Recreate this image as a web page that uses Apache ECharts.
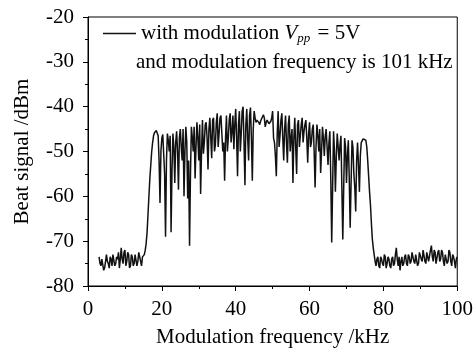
<!DOCTYPE html>
<html>
<head>
<meta charset="utf-8">
<script src="https://cdn.jsdelivr.net/npm/echarts@6/dist/echarts.min.js"></script>
<style>
html,body{margin:0;padding:0;background:#fff;}
#chart{width:476px;height:353px;}
</style>
</head>
<body>
<div id="chart"></div>
<script>
// Modulation frequency (kHz)
var freq = [
 3.0,3.25,3.5,3.75,4.0,4.25,4.5,4.75,
 5.0,5.25,5.5,5.75,6.0,6.25,6.5,6.75,
 7.0,7.25,7.5,7.75,8.0,8.25,8.5,8.75,
 9.0,9.25,9.5,9.75,10.0,10.25,10.5,10.75,
 11.0,11.25,11.5,11.75,12.0,12.25,12.5,12.75,
 13.0,13.25,13.5,13.75,14.0,14.25,14.5,14.75,
 15.0,15.25,15.5,15.75,16.0,16.25,16.5,16.75,
 17.0,17.25,17.5,17.75,18.0,18.25,18.5,18.75,
 19.0,19.25,19.5,19.75,20.0,20.25,20.5,20.75,
 21.0,21.25,21.5,21.75,22.0,22.25,22.5,22.75,
 23.0,23.25,23.5,23.75,24.0,24.25,24.5,24.75,
 25.0,25.25,25.5,25.75,26.0,26.25,26.5,26.75,
 27.0,27.25,27.5,27.75,28.0,28.25,28.5,28.75,
 29.0,29.25,29.5,29.75,30.0,30.25,30.5,30.75,
 31.0,31.25,31.5,31.75,32.0,32.25,32.5,32.75,
 33.0,33.25,33.5,33.75,34.0,34.25,34.5,34.75,
 35.0,35.25,35.5,35.75,36.0,36.25,36.5,36.75,
 37.0,37.25,37.5,37.75,38.0,38.25,38.5,38.75,
 39.0,39.25,39.5,39.75,40.0,40.25,40.5,40.75,
 41.0,41.25,41.5,41.75,42.0,42.25,42.5,42.75,
 43.0,43.25,43.5,43.75,44.0,44.25,44.5,44.75,
 45.0,45.25,45.5,45.75,46.0,46.25,46.5,46.75,
 47.0,47.25,47.5,47.75,48.0,48.25,48.5,48.75,
 49.0,49.25,49.5,49.75,50.0,50.25,50.5,50.75,
 51.0,51.25,51.5,51.75,52.0,52.25,52.5,52.75,
 53.0,53.25,53.5,53.75,54.0,54.25,54.5,54.75,
 55.0,55.25,55.5,55.75,56.0,56.25,56.5,56.75,
 57.0,57.25,57.5,57.75,58.0,58.25,58.5,58.75,
 59.0,59.25,59.5,59.75,60.0,60.25,60.5,60.75,
 61.0,61.25,61.5,61.75,62.0,62.25,62.5,62.75,
 63.0,63.25,63.5,63.75,64.0,64.25,64.5,64.75,
 65.0,65.25,65.5,65.75,66.0,66.25,66.5,66.75,
 67.0,67.25,67.5,67.75,68.0,68.25,68.5,68.75,
 69.0,69.25,69.5,69.75,70.0,70.25,70.5,70.75,
 71.0,71.25,71.5,71.75,72.0,72.25,72.5,72.75,
 73.0,73.25,73.5,73.75,74.0,74.25,74.5,74.75,
 75.0,75.25,75.5,75.75,76.0,76.25,76.5,76.75,
 77.0,77.25,77.5,77.75,78.0,78.25,78.5,78.75,
 79.0,79.25,79.5,79.75,80.0,80.25,80.5,80.75,
 81.0,81.25,81.5,81.75,82.0,82.25,82.5,82.75,
 83.0,83.25,83.5,83.75,84.0,84.25,84.5,84.75,
 85.0,85.25,85.5,85.75,86.0,86.25,86.5,86.75,
 87.0,87.25,87.5,87.75,88.0,88.25,88.5,88.75,
 89.0,89.25,89.5,89.75,90.0,90.25,90.5,90.75,
 91.0,91.25,91.5,91.75,92.0,92.25,92.5,92.75,
 93.0,93.25,93.5,93.75,94.0,94.25,94.5,94.75,
 95.0,95.25,95.5,95.75,96.0,96.25,96.5,96.75,
 97.0,97.25,97.5,97.75,98.0,98.25,98.5,98.75,
 99.0,99.25,99.5,99.75,100.0
];
// Beat signal (dBm)
var beat = [
 -73.5,-75.0,-75.5,-74.0,-74.0,-76.5,-76.0,-74.5,
 -73.0,-74.5,-75.0,-76.0,-73.5,-74.0,-75.5,-73.0,
 -73.0,-75.5,-75.0,-73.5,-74.0,-72.5,-76.0,-74.0,
 -71.5,-74.0,-75.0,-72.5,-72.0,-75.5,-74.5,-72.5,
 -73.0,-76.0,-75.5,-73.0,-73.5,-75.5,-75.0,-73.0,
 -73.0,-75.5,-74.5,-72.5,-72.5,-74.5,-75.5,-73.5,
 -73.5,-73.0,-72.0,-70.5,-68.0,-64.0,-60.0,-56.0,
 -53.0,-50.0,-48.0,-46.5,-45.8,-45.4,-45.3,-45.7,
 -46.5,-52.0,-61.5,-50.0,-47.0,-46.2,-46.5,-55.0,
 -69.0,-52.0,-46.0,-47.5,-50.0,-46.5,-68.0,-54.0,
 -46.0,-49.0,-57.0,-48.0,-45.5,-50.0,-58.5,-47.0,
 -45.0,-49.0,-52.0,-45.0,-60.0,-50.0,-44.5,-48.0,
 -60.5,-52.0,-71.0,-55.0,-44.5,-47.0,-50.0,-44.5,
 -56.0,-49.0,-43.5,-47.0,-52.0,-44.0,-59.5,-50.0,
 -43.0,-50.5,-48.0,-44.0,-43.5,-47.0,-54.0,-45.0,
 -42.5,-47.0,-51.5,-43.0,-42.5,-50.0,-48.5,-43.5,
 -41.5,-49.0,-46.0,-42.5,-42.0,-46.0,-50.0,-48.0,
 -56.5,-47.0,-42.0,-50.0,-47.0,-43.0,-41.5,-48.0,
 -45.5,-42.0,-49.5,-44.0,-40.5,-47.0,-55.5,-44.0,
 -41.0,-50.0,-46.0,-41.0,-40.0,-48.0,-57.5,-44.0,
 -40.5,-47.0,-52.0,-42.0,-40.2,-47.0,-56.5,-45.0,
 -41.0,-42.5,-43.5,-43.0,-43.0,-43.5,-44.0,-43.2,
 -43.5,-43.0,-41.8,-42.5,-44.5,-43.5,-43.0,-43.3,
 -43.8,-43.5,-43.3,-42.5,-41.0,-47.0,-48.0,-51.0,
 -55.5,-46.0,-41.0,-49.0,-46.5,-43.0,-41.5,-47.0,
 -52.0,-45.0,-42.0,-48.0,-52.5,-44.0,-42.0,-50.0,
 -47.0,-45.0,-57.0,-47.0,-42.5,-49.0,-55.0,-44.0,
 -43.0,-49.0,-46.5,-44.0,-42.5,-48.0,-45.5,-44.0,
 -43.0,-47.0,-52.5,-46.0,-43.5,-49.0,-48.0,-45.0,
 -44.0,-50.0,-58.0,-49.0,-44.0,-46.5,-50.0,-45.0,
 -54.8,-50.0,-44.5,-47.0,-51.0,-46.5,-45.0,-49.0,
 -53.0,-48.0,-45.5,-56.0,-70.3,-58.0,-45.5,-50.0,
 -59.0,-51.0,-46.0,-49.0,-52.0,-48.5,-46.5,-58.0,
 -69.6,-58.0,-47.0,-49.0,-57.0,-51.0,-47.5,-56.0,
 -67.0,-57.0,-47.5,-49.0,-55.0,-58.0,-63.4,-52.0,
 -48.0,-53.0,-59.0,-51.0,-48.0,-47.6,-47.2,-47.0,
 -47.0,-47.5,-49.0,-52.0,-55.5,-59.0,-62.0,-66.0,
 -69.5,-71.5,-73.0,-74.5,-75.5,-74.0,-73.5,-75.5,
 -76.0,-73.5,-74.0,-75.0,-75.5,-73.0,-73.5,-76.0,
 -75.0,-73.5,-74.0,-75.5,-76.0,-74.0,-73.5,-75.5,
 -75.0,-73.0,-71.5,-74.0,-75.5,-73.5,-76.5,-74.5,
 -73.5,-75.5,-75.0,-73.5,-73.0,-75.0,-75.5,-73.0,
 -73.5,-75.0,-74.5,-72.5,-72.5,-74.5,-75.0,-73.0,
 -73.0,-75.5,-75.0,-72.5,-72.5,-74.0,-74.5,-72.0,
 -72.0,-74.5,-75.0,-72.5,-72.5,-74.5,-74.5,-72.0,
 -71.0,-73.5,-74.5,-72.0,-72.5,-75.0,-75.0,-72.5,
 -72.0,-74.5,-74.0,-72.0,-72.5,-74.5,-75.5,-73.0,
 -73.0,-75.0,-74.5,-72.0,-72.5,-74.5,-75.5,-73.0,
 -73.5,-74.5,-76.0,-74.0,-73.5
];
var xTicks = [0, 20, 40, 60, 80, 100];
var yTicks = [-80, -70, -60, -50, -40, -30, -20];
var seriesName = 'with modulation';
var legendLine1 = 'with modulation {v|V}{s|pp} = 5V';
var legendLine2 = 'and modulation frequency is 101 kHz';

var pts = freq.map(function (f, i) { return [f, beat[i]]; });
var FONT = '"Liberation Serif","Times New Roman",serif';
var FS = 21;
var chart = echarts.init(document.getElementById('chart'), null, {renderer: 'canvas'});
chart.setOption({
  animation: false,
  backgroundColor: '#fff',
  grid: {left: 88, right: 15, top: 17, bottom: 60, show: true, borderColor: '#000', borderWidth: 1, backgroundColor: 'transparent'},
  legend: {
    left: 98, top: 18, itemWidth: 33, itemHeight: 14, itemGap: 5,
    data: [{name: seriesName, icon: 'path://M0,0L33,0L33,1.5L0,1.5Z'}],
    formatter: function () { return legendLine1; },
    textStyle: {
      fontFamily: FONT, fontSize: FS, color: '#000',
      rich: {
        v: {fontFamily: FONT, fontSize: FS, fontStyle: 'italic', color: '#000'},
        s: {fontFamily: FONT, fontSize: 13, fontStyle: 'italic', color: '#000', verticalAlign: 'bottom', padding: [10, 2, 0, 0]}
      }
    }
  },
  graphic: [{type: 'text', left: 136, top: 52, style: {text: legendLine2, font: FS + 'px ' + FONT, fill: '#000'}}],
  xAxis: {
    type: 'value', min: xTicks[0], max: xTicks[xTicks.length - 1], interval: 20,
    name: 'Modulation frequency /kHz', nameLocation: 'middle', nameGap: 41,
    nameTextStyle: {fontFamily: FONT, fontSize: FS, color: '#000'},
    axisLine: {show: true, onZero: false, lineStyle: {color: '#000', width: 1}},
    axisTick: {show: true, length: 5, lineStyle: {color: '#000'}},
    minorTick: {show: true, splitNumber: 2, length: 3, lineStyle: {color: '#000'}},
    splitLine: {show: false},
    axisLabel: {fontFamily: FONT, fontSize: FS, color: '#000', margin: 13}
  },
  yAxis: {
    type: 'value', min: yTicks[0], max: yTicks[yTicks.length - 1], interval: 10,
    name: 'Beat signal /dBm', nameLocation: 'middle', nameGap: 55, nameRotate: 90,
    nameTextStyle: {fontFamily: FONT, fontSize: FS, color: '#000'},
    axisLine: {show: true, onZero: false, lineStyle: {color: '#000', width: 1}},
    axisTick: {show: true, length: 5, lineStyle: {color: '#000'}},
    minorTick: {show: true, splitNumber: 2, length: 3, lineStyle: {color: '#000'}},
    splitLine: {show: false},
    axisLabel: {fontFamily: FONT, fontSize: FS, color: '#000', margin: 14}
  },
  series: [{
    name: seriesName, type: 'line', data: pts, showSymbol: false, symbol: 'none',
    lineStyle: {color: '#111', width: 1.5}, itemStyle: {color: '#111'}
  }]
});
</script>
</body>
</html>
